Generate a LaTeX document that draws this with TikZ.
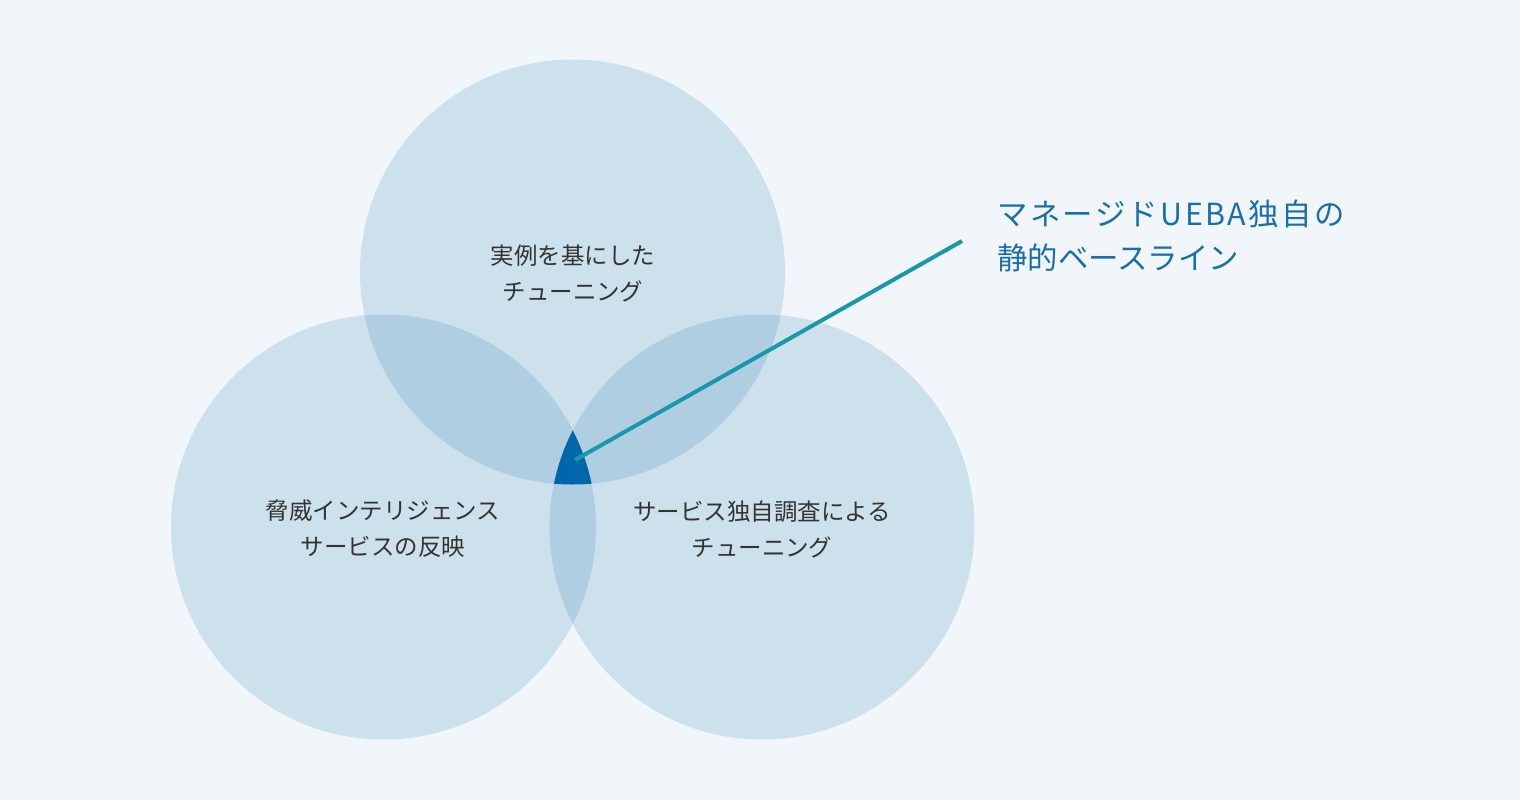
\documentclass[tikz,border=0pt]{standalone}
\usepackage{fontspec}
\newfontfamily\jp{Noto Sans CJK JP}
\definecolor{vbg}{HTML}{F1F6FA}
\definecolor{vone}{HTML}{CDE1EC}
\definecolor{vtwo}{HTML}{B0CEE2}
\definecolor{vcore}{HTML}{0066AC}
\definecolor{leader}{HTML}{1B98A8}
\definecolor{bluetxt}{HTML}{1A6EAD}
\definecolor{graytxt}{HTML}{333333}
\begin{document}
\begin{tikzpicture}[x=0.75pt,y=-0.75pt,
  lbl/.style={font=\jp\fontsize{17.6pt}{27pt}\selectfont,text=graytxt,align=center,inner sep=0pt},
  callout/.style={font=\jp\fontsize{22.8pt}{33pt}\selectfont,text=bluetxt,align=left,inner sep=0pt,anchor=west}]
\fill[vbg] (0,0) rectangle (1520,800);
\useasboundingbox (0,0) rectangle (1520,800);
\def\rr{212.5}
\coordinate (ct) at (572.5,272);
\coordinate (cl) at (383.5,527);
\coordinate (cr) at (762,527);
\fill[vone] (ct) circle[radius=\rr];
\fill[vone] (cl) circle[radius=\rr];
\fill[vone] (cr) circle[radius=\rr];
\begin{scope}
  \clip (ct) circle[radius=\rr];
  \fill[vtwo] (cl) circle[radius=\rr];
  \fill[vtwo] (cr) circle[radius=\rr];
\end{scope}
\begin{scope}
  \clip (cl) circle[radius=\rr];
  \fill[vtwo] (cr) circle[radius=\rr];
\end{scope}
\begin{scope}
  \clip (ct) circle[radius=\rr];
  \clip (cl) circle[radius=\rr];
  \fill[vcore] (cr) circle[radius=\rr];
\end{scope}
\node[lbl] (top) at (573,273) {実例を基にした\\チューニング};
\node[lbl] (left) at (383,529) {脅威インテリジェンス\\サービスの反映};
\node[lbl] (right) at (762,529) {サービス独自調査による\\チューニング};
\coordinate (core) at (575,460);
\node[callout] (note) at (997,236) {{\addfontfeature{LetterSpace=8}マネージドUEBA独自の}\\静的ベースライン};
\coordinate (noteend) at (962,241);
\draw[leader,line width=3pt] (core) -- (noteend);
\end{tikzpicture}
\end{document}
